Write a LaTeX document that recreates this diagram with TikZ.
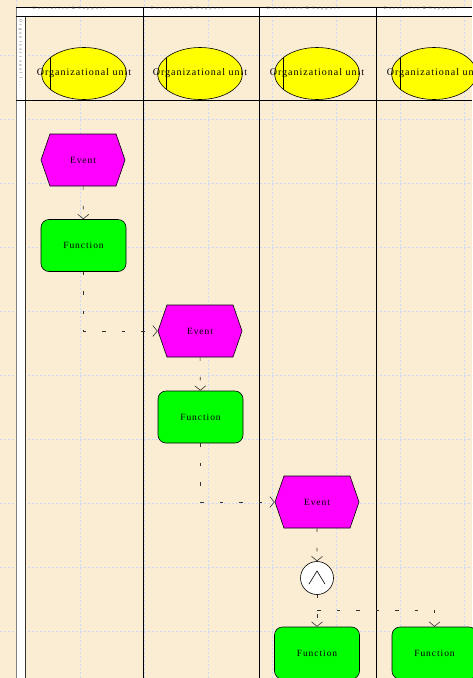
\documentclass[tikz,border=0pt]{standalone}
\usepackage{fontspec}
\setmainfont{Liberation Serif}
\newfontfamily\arisfont[LetterSpace=10]{Liberation Serif}
\newfontfamily\tinyfont[LetterSpace=60]{Liberation Serif}
\usetikzlibrary{shapes.symbols,shapes.geometric,arrows.meta,positioning,calc}

\definecolor{paper}{RGB}{250,237,212}
\definecolor{gridblue}{RGB}{205,218,245}
\definecolor{eventmag}{RGB}{255,0,255}
\definecolor{funcgreen}{RGB}{0,255,0}
\definecolor{orgyellow}{RGB}{255,255,0}

\begin{document}
\begin{tikzpicture}[x=1pt,y=-1pt,
    eventbox/.style={signal, signal to=west and east, signal pointer angle=142, draw, line width=0.6pt,
        fill=eventmag, minimum width=84pt, minimum height=52pt, inner sep=0pt,
        font=\arisfont\fontsize{9.5}{11}\selectfont},
    funcbox/.style={draw, rectangle, rounded corners=8pt, line width=0.6pt, fill=funcgreen,
        minimum width=85pt, minimum height=52pt, inner sep=0pt, font=\arisfont\fontsize{9.5}{11}\selectfont},
    orgbox/.style={draw, ellipse, line width=0.6pt, fill=orgyellow, minimum width=85pt,
        minimum height=52pt, inner sep=0pt, font=\arisfont\fontsize{10}{12}\selectfont},
    andbox/.style={draw, circle, line width=0.6pt, fill=white, minimum size=33pt, inner sep=0pt,
        path picture={\draw (path picture bounding box.center) ++(-8,6) -- ++(8,-13) -- ++(8,13);}},
    tinylabel/.style={inner sep=0pt, text=black!70, font=\tinyfont\fontsize{4}{4}\selectfont},
    gridline/.style={gridblue, line width=0.8pt, dash pattern=on 2pt off 2pt},
    flow/.style={-{Straight Barb[length=4.5pt,width=11pt]}, line width=0.6pt, black!80,
        dash pattern=on 3.5pt off 16pt}
]
    % paper and grid
    \fill[paper] (0,0) rectangle (472,678);
    \useasboundingbox (0,0) rectangle (472,678);
    \foreach \x in {16,80,...,464}
        \draw[gridline] (\x,0) -- (\x,678);
    \foreach \y in {55,119,...,631}
        \draw[gridline] (0,\y) -- (472,\y);

    % swimlane frame
    \fill[white] (16,7) rectangle (472,16);
    \fill[white] (16,16) rectangle (25,678);
    \draw[gray, line width=1pt] (16,7) -- (16,678);
    \draw[black!80, line width=1pt] (25,16) -- (25,678);
    \draw[line width=0.6pt] (16,7) -- (472,7);
    \draw[line width=0.6pt] (16,16) -- (472,16);
    \draw[line width=0.6pt] (16,100) -- (472,100);
    \foreach \x in {143,259,376}
        \draw[line width=0.6pt] (\x,7) -- (\x,678);

    \foreach \x [count=\i] in {25,143,259,376}
        \node[tinylabel, anchor=west] (hdr\i) at (\x+8,9) {Executive \& Support};
    \node[tinylabel, rotate=-90, anchor=west] (rowlbl) at (20.5,19) {Organizational l...};

    % organizational units
    \foreach \x [count=\i] in {84,200,317,434} {
        \node[orgbox] (o\i) at (\x,73.5) {};
        \draw[line width=0.6pt] (o\i.center) ++(-33.5,-16) -- ++(0,32);
        \node[font=\arisfont\fontsize{10}{12}\selectfont, inner sep=0pt] (ot\i) at (o\i.center) {Organizational unit};
    }

    % process
    \node[eventbox] (e1) at (83,160) {Event};
    \node[funcbox] (f1) at (83.5,245.5) {Function};
    \node[eventbox] (e2) at (200,331) {Event};
    \node[funcbox] (f2) at (200.5,417) {Function};
    \node[eventbox] (e3) at (317,502) {Event};
    \node[andbox] (and) at (317,578) {};
    \node[funcbox] (f3) at (317,653) {Function};
    \node[funcbox] (f4) at (434.5,653) {Function};
    \coordinate (split) at (317,610);

    \draw[flow] (e1) -- (f1);
    \draw[flow] (f1.south) |- (e2.west);
    \draw[flow] (e2) -- (f2);
    \draw[flow] (f2.south) |- (e3.west);
    \draw[flow] (e3) -- (and);
    \draw[flow] (and) -- (f3);
    \draw[flow] (split) -| (f4);
\end{tikzpicture}
\end{document}
